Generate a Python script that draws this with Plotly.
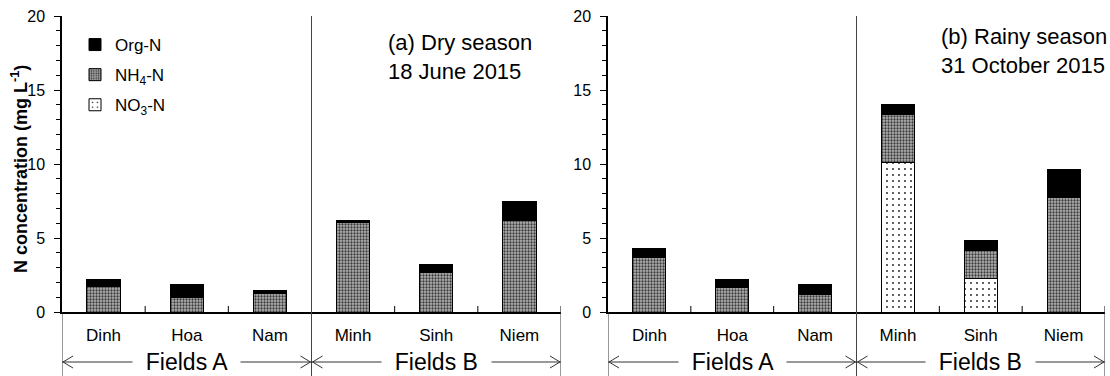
import plotly.graph_objects as go

# Sampling sites and their field groups
sites = ["Dinh", "Hoa", "Nam", "Minh", "Sinh", "Niem"]
field_groups = ["Fields A", "Fields B"]

# (a) Dry season, 18 June 2015 — N concentration (mg/L)
no3_dry = [0, 0, 0, 0, 0, 0]
nh4_dry = [1.75, 1.0, 1.25, 6.05, 2.65, 6.2]
org_dry = [0.45, 0.85, 0.22, 0.1, 0.55, 1.3]

# (b) Rainy season, 31 October 2015
no3_rainy = [0, 0, 0, 10.1, 2.25, 0]
nh4_rainy = [3.7, 1.65, 1.2, 3.25, 1.9, 7.75]
org_rainy = [0.6, 0.55, 0.65, 0.65, 0.65, 1.9]

panel_titles = ["(a) Dry season<br>18 June 2015", "(b) Rainy season<br>31 October 2015"]
y_ticks = [0, 5, 10, 15, 20]

FONT = "Liberation Sans, Arial, sans-serif"
W, H = 1110, 376
Y_TOP, Y_BOT = 16, 312  # pixel rows of y=20 and y=0
LEFT_DOM = [62 / W, 561 / W]
RIGHT_DOM = [608 / W, 1105 / W]
Y_DOM = [1 - Y_BOT / H, 1 - Y_TOP / H]

nh4_pattern = dict(shape=".", fgcolor="#3a3a3a", bgcolor="#b4b4b4", size=3, solidity=0.45, fillmode="replace")
no3_pattern = dict(shape=".", fgcolor="#222222", bgcolor="white", size=6, solidity=0.08, fillmode="replace")

fig = go.Figure()

# stacked bottom-to-top; legendrank puts Org-N first in the legend
series = [
    ("NO<sub>3</sub>-N", no3_dry, no3_rainy, dict(color="white", pattern=no3_pattern), 3),
    ("NH<sub>4</sub>-N", nh4_dry, nh4_rainy, dict(color="white", pattern=nh4_pattern), 2),
    ("Org-N", org_dry, org_rainy, dict(color="black"), 1),
]

for name, dry, rainy, style, rank in series:
    for vals, xa, ya, show in [(dry, "x", "y", True), (rainy, "x2", "y2", False)]:
        fig.add_trace(go.Bar(
            x=sites, y=vals, name=name, xaxis=xa, yaxis=ya,
            width=0.4, showlegend=show, legendgroup=name, legendrank=rank,
            marker=dict(line=dict(color="black", width=1), **style),
        ))

axis_common = dict(
    range=[0, 20], tickvals=y_ticks, ticks="outside", ticklen=6, tickwidth=1,
    tickcolor="black", showline=True, linecolor="black", linewidth=1.5,
    showgrid=False, zeroline=False, ticklabelstandoff=6,
    tickfont=dict(family=FONT, size=16, color="black"),
    minor=dict(dtick=1, ticks="outside", ticklen=4, tickcolor="black", tickwidth=1),
    domain=Y_DOM,
)
xaxis_common = dict(
    type="category", categoryorder="array", categoryarray=sites, range=[-0.5, 5.5],
    showline=True, linecolor="black", linewidth=2, ticks="", showgrid=False,
    tickfont=dict(family=FONT, size=17, color="black"), ticklabelstandoff=7,
)

fig.update_layout(
    width=W, height=H, margin=dict(l=0, r=0, t=0, b=0, autoexpand=False),
    paper_bgcolor="white", plot_bgcolor="white", barmode="stack",
    font=dict(family=FONT, color="black"),
    xaxis=dict(domain=LEFT_DOM, anchor="y", **xaxis_common),
    xaxis2=dict(domain=RIGHT_DOM, anchor="y2", **xaxis_common),
    yaxis=dict(anchor="x", **axis_common),
    yaxis2=dict(anchor="x2", **axis_common),
    legend=dict(
        x=75 / W, y=1 - 27 / H, xanchor="left", yanchor="top",
        traceorder="grouped", tracegroupgap=5, itemwidth=30,
        font=dict(family=FONT, size=17, color="black"), bgcolor="rgba(0,0,0,0)",
    ),
)

shapes = []
annotations = []
arrow_y = 1 - 362 / H
for xr, yr in [("x", "y"), ("x2", "y2")]:
    # y-axis and right-end lines extended down through the label area
    for xv in [-0.5, 5.5]:
        shapes.append(dict(type="line", xref=xr, yref="paper", x0=xv, x1=xv, y0=0, y1=Y_DOM[0],
                           line=dict(color="#333333", width=1)))
    # separator between field groups
    shapes.append(dict(type="line", xref=xr, yref="paper", x0=2.5, x1=2.5, y0=0, y1=Y_DOM[1],
                       line=dict(color="#444444", width=1)))
    # boundary ticks crossing the baseline
    for xv in [0.5, 1.5, 3.5, 4.5, 5.5]:
        shapes.append(dict(type="line", xref=xr, yref=yr, xsizemode="scaled", ysizemode="pixel",
                           yanchor=0, x0=xv, x1=xv, y0=-6, y1=6, line=dict(color="black", width=1)))
    # group arrows with open heads
    for gi, label in enumerate(field_groups):
        left, right = 3 * gi - 0.5, 3 * gi + 2.5
        shapes.append(dict(type="line", xref=xr, yref="paper", x0=left, x1=right, y0=arrow_y, y1=arrow_y,
                           line=dict(color="#333333", width=1)))
        shapes.append(dict(type="path", xref=xr, yref="paper", xsizemode="pixel", ysizemode="pixel",
                           xanchor=left, yanchor=arrow_y, path="M 11,6 L 1,0 L 11,-6",
                           line=dict(color="#333333", width=1)))
        shapes.append(dict(type="path", xref=xr, yref="paper", xsizemode="pixel", ysizemode="pixel",
                           xanchor=right, yanchor=arrow_y, path="M -11,6 L -1,0 L -11,-6",
                           line=dict(color="#333333", width=1)))
        annotations.append(dict(text="&nbsp;&nbsp;" + label + "&nbsp;&nbsp;", xref=xr, yref="paper",
                                x=3 * gi + 1, y=arrow_y, xanchor="center", yanchor="middle",
                                showarrow=False, bgcolor="white", borderpad=0,
                                font=dict(family=FONT, size=23, color="black")))

# panel titles
annotations.append(dict(text=panel_titles[0], xref="paper", yref="paper", x=386 / W, y=1 - 57 / H,
                        xanchor="left", yanchor="middle", align="left", showarrow=False,
                        font=dict(family=FONT, size=22, color="black")))
annotations.append(dict(text=panel_titles[1], xref="paper", yref="paper", x=939 / W, y=1 - 51 / H,
                        xanchor="left", yanchor="middle", align="left", showarrow=False,
                        font=dict(family=FONT, size=22, color="black")))
# y-axis title
annotations.append(dict(text="<b>N concentration (mg L<sup>-1</sup>)</b>", xref="paper", yref="paper",
                        x=19 / W, y=1 - 169 / H, textangle=-90, showarrow=False,
                        xanchor="center", yanchor="middle",
                        font=dict(family=FONT, size=18, color="black")))

fig.update_layout(shapes=shapes, annotations=annotations)
fig.write_html("out.html")
